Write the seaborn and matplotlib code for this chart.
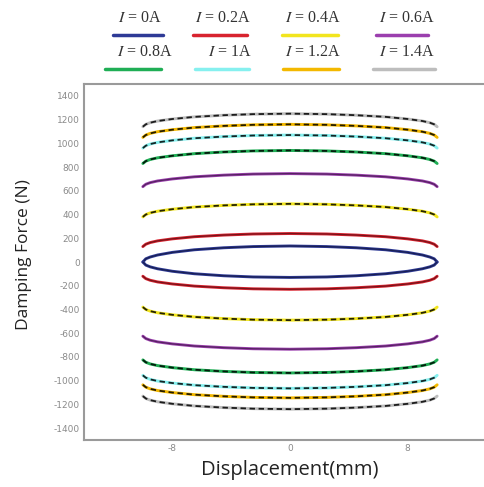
import matplotlib
matplotlib.use("Agg")
import matplotlib.pyplot as plt
import seaborn as sns
import pandas as pd
from matplotlib.lines import Line2D

# ---------------- data ----------------
currents = ["0A", "0.2A", "0.4A", "0.6A", "0.8A", "1A", "1.2A", "1.4A"]
colors = ["#2e3a96", "#d8232f", "#f2e51e", "#9b3fae", "#1fae55", "#86f0ef", "#f3b800", "#bdbdbd"]

displacement = [-10, -9.8, -9.5, -9, -8, -6.5, -4.5, -2.5, 0, 2.5, 4.5, 6.5, 8, 9, 9.5, 9.8, 10]

upper_0A = [0, 27, 42, 59, 81, 103, 120, 130, 135, 130, 120, 103, 81, 59, 42, 27, 0]
lower_0A = [0, -26, -41, -57, -78, -99, -116, -126, -130, -126, -116, -99, -78, -57, -41, -26, 0]

upper_02A = [130, 150, 164, 178, 195, 213, 227, 236, 240, 236, 227, 213, 195, 178, 164, 150, 130]
lower_02A = [-120, -140, -154, -168, -185, -203, -217, -226, -230, -226, -217, -203, -185, -168, -154, -140, -120]

upper_04A = [380, 400, 414, 428, 445, 463, 477, 486, 490, 486, 477, 463, 445, 428, 414, 400, 380]
lower_04A = [-380, -400, -414, -428, -445, -463, -477, -486, -490, -486, -477, -463, -445, -428, -414, -400, -380]

upper_06A = [635, 655, 669, 683, 700, 718, 732, 741, 745, 741, 732, 718, 700, 683, 669, 655, 635]
lower_06A = [-625, -645, -659, -673, -690, -708, -722, -731, -735, -731, -722, -708, -690, -673, -659, -645, -625]

upper_08A = [830, 850, 864, 878, 895, 913, 927, 936, 940, 936, 927, 913, 895, 878, 864, 850, 830]
lower_08A = [-825, -845, -859, -873, -890, -908, -922, -931, -935, -931, -922, -908, -890, -873, -859, -845, -825]

upper_1A = [960, 980, 994, 1008, 1025, 1043, 1057, 1066, 1070, 1066, 1057, 1043, 1025, 1008, 994, 980, 960]
lower_1A = [-955, -975, -989, -1003, -1020, -1038, -1052, -1061, -1065, -1061, -1052, -1038, -1020, -1003, -989, -975, -955]

upper_12A = [1050, 1070, 1084, 1098, 1115, 1133, 1147, 1156, 1160, 1156, 1147, 1133, 1115, 1098, 1084, 1070, 1050]
lower_12A = [-1035, -1055, -1069, -1083, -1100, -1118, -1132, -1141, -1145, -1141, -1132, -1118, -1100, -1083, -1069, -1055, -1035]

upper_14A = [1140, 1160, 1174, 1188, 1205, 1223, 1237, 1246, 1250, 1246, 1237, 1223, 1205, 1188, 1174, 1160, 1140]
lower_14A = [-1130, -1150, -1164, -1178, -1195, -1213, -1227, -1236, -1240, -1236, -1227, -1213, -1195, -1178, -1164, -1150, -1130]

uppers = [upper_0A, upper_02A, upper_04A, upper_06A, upper_08A, upper_1A, upper_12A, upper_14A]
lowers = [lower_0A, lower_02A, lower_04A, lower_06A, lower_08A, lower_1A, lower_12A, lower_14A]

x_ticks = [-8, 0, 8]
y_ticks = [-1400, -1200, -1000, -800, -600, -400, -200, 0, 200, 400, 600, 800, 1000, 1200, 1400]

# ---------------- styling ----------------
sns.set_theme(style="white")
plt.rcParams["mathtext.fontset"] = "stix"

fig = plt.figure(figsize=(4.85, 4.87), dpi=100)
ax = fig.add_axes([84 / 485, 1 - 440 / 487, (496 - 84) / 485, (440 - 84) / 487])

fine_overlay = {"0A", "0.2A", "0.6A"}
for cur, col, up, lo in zip(currents, colors, uppers, lowers):
    for branch in (up, lo):
        df = pd.DataFrame({"x": displacement, "F": branch})
        sns.lineplot(data=df, x="x", y="F", color=col, lw=2.1, sort=False, ax=ax,
                     solid_capstyle="round")
        if cur in fine_overlay:
            sns.lineplot(data=df, x="x", y="F", color="black", lw=0.9, sort=False, ax=ax,
                         alpha=0.45)
        else:
            line = sns.lineplot(data=df, x="x", y="F", color="black", lw=1.3, sort=False, ax=ax,
                                alpha=0.85)
            line.lines[-1].set_dashes((3, 2))

ax.set_xlim(-14, 14)
ax.set_ylim(-1500, 1500)
ax.set_xticks(x_ticks)
ax.set_xticklabels([str(v) for v in x_ticks])
ax.set_yticks(y_ticks)
ax.set_yticklabels([str(v) for v in y_ticks])
ax.tick_params(direction="in", length=3, width=1, colors="#8a8a8a", labelsize=6.5, pad=3)
for s in ax.spines.values():
    s.set_color("#9a9a9a")
    s.set_linewidth(1.5)
ax.set_xlabel("Displacement(mm)", fontsize=14.5, family="Open Sans", color="#222222", labelpad=5)
ax.set_ylabel("Damping Force (N)", fontsize=12.5, family="Open Sans", color="#222222")
ax.yaxis.set_label_coords(-0.126, 0.52)

# ---------------- legend (label above line sample) ----------------
legend_text_x = [140, 223, 313, 407, 145, 230, 313, 407]
legend_line_x = [(113, 163), (193, 247), (282, 338), (376, 428),
                 (105, 161), (195, 249), (283, 339), (373, 435)]
legend_text_y = [18, 18, 18, 18, 52, 52, 52, 52]
legend_line_y = [35, 35, 35, 35, 69, 69, 69, 69]
W, H = 485, 487
for cur, col, tx, (lx0, lx1), ty, ly in zip(currents, colors, legend_text_x, legend_line_x,
                                              legend_text_y, legend_line_y):
    fig.text(tx / W, 1 - ty / H, r"$I$ = " + cur, ha="center", va="center",
             fontsize=11.5, family="Liberation Serif", color="#333333")
    fig.add_artist(Line2D([lx0 / W, lx1 / W], [1 - ly / H, 1 - ly / H], color=col, lw=2.5,
                          transform=fig.transFigure))

fig.savefig("out.png", dpi=100)
